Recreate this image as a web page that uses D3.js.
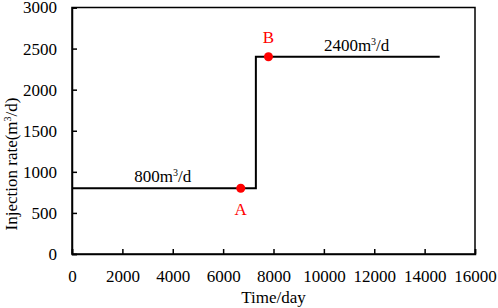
<!DOCTYPE html>
<html>
<head>
<meta charset="utf-8">
<script src="https://cdn.jsdelivr.net/npm/d3@7"></script>
<style>
  body { margin: 0; background: #fff; }
</style>
</head>
<body>
<svg id="chart"></svg>
<script>
// step profile: [time (day), rate (m3/d)]
const stepTimes = [0, 7300, 7300, 14600];
const stepRates = [800, 800, 2400, 2400];
const pointNames = ['A', 'B'];
const pointTimes = [6700, 7800];
const pointRates = [800, 2400];
const xTicks = [0, 2000, 4000, 6000, 8000, 10000, 12000, 14000, 16000];
const yTicks = [0, 500, 1000, 1500, 2000, 2500, 3000];

const width = 498, height = 308;
const margin = {left: 72, right: 23, top: 7.5, bottom: 54};
const serif = 'Liberation Serif';

const svg = d3.select('#chart')
  .attr('width', width)
  .attr('height', height)
  .style('font-family', serif);

const x = d3.scaleLinear()
  .domain([0, 16000])
  .range([margin.left, width - margin.right]);
const y = d3.scaleLinear()
  .domain([0, 3000])
  .range([height - margin.bottom, margin.top]);

// frame
svg.append('rect')
  .attr('x', x(0))
  .attr('y', y(3000))
  .attr('width', x(16000) - x(0))
  .attr('height', y(0) - y(3000))
  .attr('fill', 'none')
  .attr('stroke', '#000')
  .attr('stroke-width', 1.5);

const xAxis = svg.append('g')
  .attr('transform', `translate(0, ${y(0)})`)
  .call(d3.axisBottom(x).tickValues(xTicks).tickSize(-5).tickPadding(16).tickFormat(d3.format('d')));
const yAxis = svg.append('g')
  .attr('transform', `translate(${x(0)}, 0)`)
  .call(d3.axisLeft(y).tickValues(yTicks).tickSize(-5).tickPadding(15).tickFormat(d3.format('d')));

[xAxis, yAxis].forEach(a => {
  a.attr('font-family', null).attr('font-size', 17);
  a.select('.domain').attr('stroke-width', 1.5);
  a.selectAll('.tick line').attr('stroke-width', 1.5);
  a.selectAll('.tick text').attr('fill', '#000');
});

const line = d3.line()
  .x((d, i) => x(stepTimes[i]))
  .y((d, i) => y(stepRates[i]));

svg.append('path')
  .datum(stepTimes)
  .attr('d', line)
  .attr('fill', 'none')
  .attr('stroke', '#000')
  .attr('stroke-width', 2);

svg.selectAll('.pt')
  .data(pointNames)
  .enter()
  .append('circle')
  .attr('class', 'pt')
  .attr('cx', (d, i) => x(pointTimes[i]))
  .attr('cy', (d, i) => y(pointRates[i]))
  .attr('r', 4.5)
  .attr('fill', '#ff0000');

svg.selectAll('.ptlabel')
  .data(pointNames)
  .enter()
  .append('text')
  .attr('class', 'ptlabel')
  .attr('x', (d, i) => x(pointTimes[i]))
  .attr('y', (d, i) => i === 0 ? y(pointRates[i]) + 27 : y(pointRates[i]) - 14)
  .attr('text-anchor', 'middle')
  .attr('font-size', 17)
  .attr('fill', '#ff0000')
  .text(d => d);

// rate labels
function rateLabel(t, r, value) {
  const txt = svg.append('text')
    .attr('x', x(t))
    .attr('y', y(r) - 6)
    .attr('text-anchor', 'middle')
    .attr('font-size', 17)
    .attr('fill', '#000');
  txt.append('tspan').text(value + 'm');
  txt.append('tspan').attr('font-size', 10).attr('dy', -6).text('3');
  txt.append('tspan').attr('dy', 6).text('/d');
}
rateLabel(3600, 800, 800);
rateLabel(11300, 2400, 2400);

// axis titles
svg.append('text')
  .attr('x', x(8000))
  .attr('y', 303)
  .attr('text-anchor', 'middle')
  .attr('font-size', 17)
  .text('Time/day');

const yt = svg.append('text')
  .attr('transform', `translate(17, 164) rotate(-90)`)
  .attr('text-anchor', 'middle')
  .attr('font-size', 17);
yt.append('tspan').text('Injection rate(m');
yt.append('tspan').attr('font-size', 10).attr('dy', -6).text('3');
yt.append('tspan').attr('dy', 6).text('/d)');
</script>
</body>
</html>
